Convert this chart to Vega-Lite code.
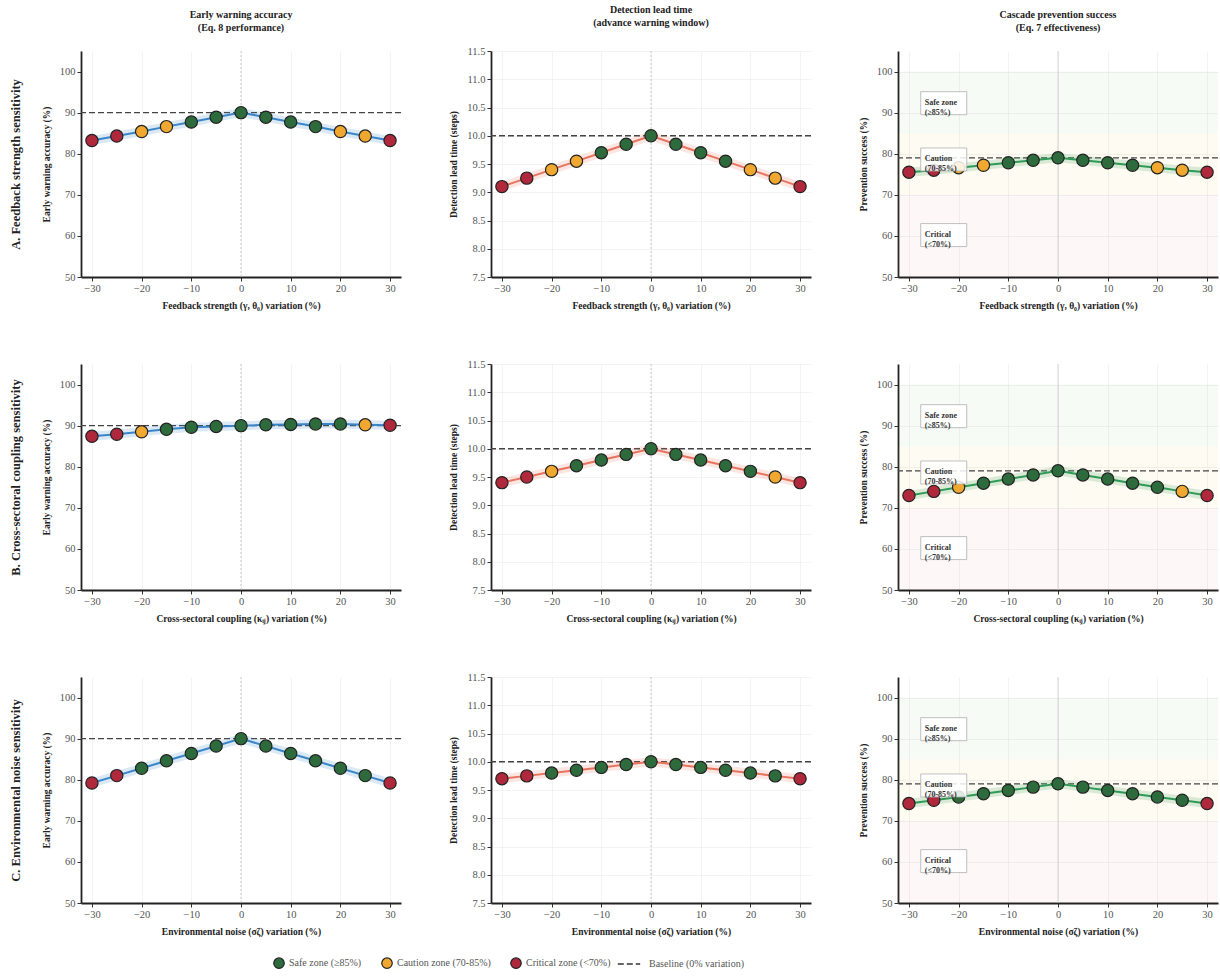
{
"$schema": "https://vega.github.io/schema/vega-lite/v6.json",
"background": "white",
"padding": {"left": 9, "top": 5, "right": 2, "bottom": 5},
"config": {
 "view": {"stroke": null},
 "axis": {"domainColor": "#222", "domainWidth": 1.8, "tickColor": "#333", "tickSize": 4, "tickWidth": 1, "tickCount": 12, "labelFont": "Liberation Serif", "labelFontSize": 10.5, "labelColor": "#555", "labelPadding": 2, "labelOverlap": false, "titleFont": "Liberation Serif", "titleFontSize": 9.5, "titleFontWeight": "bold", "titleColor": "#222", "gridColor": "#eeeeee", "gridWidth": 0.7, "grid": true},
 "axisX": {"titlePadding": 7},
 "axisY": {"titlePadding": 8},
 "title": {"font": "Liberation Serif", "fontSize": 10, "fontWeight": "bold", "color": "#222", "lineHeight": 13},
 "legend": {"labelFont": "Liberation Serif", "labelFontSize": 10, "labelColor": "#555"}
},
"datasets": {
 "A1": [
  {"x": -30, "v": 83.2, "zone": "Critical zone (<70%)"}, {"x": -25, "v": 84.3, "zone": "Critical zone (<70%)"}, {"x": -20, "v": 85.4, "zone": "Caution zone (70-85%)"}, {"x": -15, "v": 86.6, "zone": "Caution zone (70-85%)"}, {"x": -10, "v": 87.7, "zone": "Safe zone (≥85%)"}, {"x": -5, "v": 88.9, "zone": "Safe zone (≥85%)"}, {"x": 0, "v": 90.0, "zone": "Safe zone (≥85%)"}, {"x": 5, "v": 88.9, "zone": "Safe zone (≥85%)"}, {"x": 10, "v": 87.7, "zone": "Safe zone (≥85%)"}, {"x": 15, "v": 86.6, "zone": "Safe zone (≥85%)"}, {"x": 20, "v": 85.4, "zone": "Caution zone (70-85%)"}, {"x": 25, "v": 84.3, "zone": "Caution zone (70-85%)"}, {"x": 30, "v": 83.2, "zone": "Critical zone (<70%)"}
 ],
 "A2": [
  {"x": -30, "v": 9.1, "zone": "Critical zone (<70%)"}, {"x": -25, "v": 9.25, "zone": "Critical zone (<70%)"}, {"x": -20, "v": 9.4, "zone": "Caution zone (70-85%)"}, {"x": -15, "v": 9.55, "zone": "Caution zone (70-85%)"}, {"x": -10, "v": 9.7, "zone": "Safe zone (≥85%)"}, {"x": -5, "v": 9.85, "zone": "Safe zone (≥85%)"}, {"x": 0, "v": 10.0, "zone": "Safe zone (≥85%)"}, {"x": 5, "v": 9.85, "zone": "Safe zone (≥85%)"}, {"x": 10, "v": 9.7, "zone": "Safe zone (≥85%)"}, {"x": 15, "v": 9.55, "zone": "Safe zone (≥85%)"}, {"x": 20, "v": 9.4, "zone": "Caution zone (70-85%)"}, {"x": 25, "v": 9.25, "zone": "Caution zone (70-85%)"}, {"x": 30, "v": 9.1, "zone": "Critical zone (<70%)"}
 ],
 "A3": [
  {"x": -30, "v": 75.5, "zone": "Critical zone (<70%)"}, {"x": -25, "v": 76.0, "zone": "Critical zone (<70%)"}, {"x": -20, "v": 76.6, "zone": "Caution zone (70-85%)"}, {"x": -15, "v": 77.2, "zone": "Caution zone (70-85%)"}, {"x": -10, "v": 77.8, "zone": "Safe zone (≥85%)"}, {"x": -5, "v": 78.4, "zone": "Safe zone (≥85%)"}, {"x": 0, "v": 79.0, "zone": "Safe zone (≥85%)"}, {"x": 5, "v": 78.4, "zone": "Safe zone (≥85%)"}, {"x": 10, "v": 77.8, "zone": "Safe zone (≥85%)"}, {"x": 15, "v": 77.2, "zone": "Safe zone (≥85%)"}, {"x": 20, "v": 76.6, "zone": "Caution zone (70-85%)"}, {"x": 25, "v": 76.0, "zone": "Caution zone (70-85%)"}, {"x": 30, "v": 75.5, "zone": "Critical zone (<70%)"}
 ],
 "B1": [
  {"x": -30, "v": 87.4, "zone": "Critical zone (<70%)"}, {"x": -25, "v": 87.9, "zone": "Critical zone (<70%)"}, {"x": -20, "v": 88.5, "zone": "Caution zone (70-85%)"}, {"x": -15, "v": 89.1, "zone": "Safe zone (≥85%)"}, {"x": -10, "v": 89.6, "zone": "Safe zone (≥85%)"}, {"x": -5, "v": 89.8, "zone": "Safe zone (≥85%)"}, {"x": 0, "v": 90.0, "zone": "Safe zone (≥85%)"}, {"x": 5, "v": 90.2, "zone": "Safe zone (≥85%)"}, {"x": 10, "v": 90.3, "zone": "Safe zone (≥85%)"}, {"x": 15, "v": 90.4, "zone": "Safe zone (≥85%)"}, {"x": 20, "v": 90.4, "zone": "Safe zone (≥85%)"}, {"x": 25, "v": 90.2, "zone": "Caution zone (70-85%)"}, {"x": 30, "v": 90.1, "zone": "Critical zone (<70%)"}
 ],
 "B2": [
  {"x": -30, "v": 9.4, "zone": "Critical zone (<70%)"}, {"x": -25, "v": 9.5, "zone": "Critical zone (<70%)"}, {"x": -20, "v": 9.6, "zone": "Caution zone (70-85%)"}, {"x": -15, "v": 9.7, "zone": "Safe zone (≥85%)"}, {"x": -10, "v": 9.8, "zone": "Safe zone (≥85%)"}, {"x": -5, "v": 9.9, "zone": "Safe zone (≥85%)"}, {"x": 0, "v": 10.0, "zone": "Safe zone (≥85%)"}, {"x": 5, "v": 9.9, "zone": "Safe zone (≥85%)"}, {"x": 10, "v": 9.8, "zone": "Safe zone (≥85%)"}, {"x": 15, "v": 9.7, "zone": "Safe zone (≥85%)"}, {"x": 20, "v": 9.6, "zone": "Safe zone (≥85%)"}, {"x": 25, "v": 9.5, "zone": "Caution zone (70-85%)"}, {"x": 30, "v": 9.4, "zone": "Critical zone (<70%)"}
 ],
 "B3": [
  {"x": -30, "v": 73.0, "zone": "Critical zone (<70%)"}, {"x": -25, "v": 74.0, "zone": "Critical zone (<70%)"}, {"x": -20, "v": 75.0, "zone": "Caution zone (70-85%)"}, {"x": -15, "v": 76.0, "zone": "Safe zone (≥85%)"}, {"x": -10, "v": 77.0, "zone": "Safe zone (≥85%)"}, {"x": -5, "v": 78.0, "zone": "Safe zone (≥85%)"}, {"x": 0, "v": 79.0, "zone": "Safe zone (≥85%)"}, {"x": 5, "v": 78.0, "zone": "Safe zone (≥85%)"}, {"x": 10, "v": 77.0, "zone": "Safe zone (≥85%)"}, {"x": 15, "v": 76.0, "zone": "Safe zone (≥85%)"}, {"x": 20, "v": 75.0, "zone": "Safe zone (≥85%)"}, {"x": 25, "v": 74.0, "zone": "Caution zone (70-85%)"}, {"x": 30, "v": 73.0, "zone": "Critical zone (<70%)"}
 ],
 "C1": [
  {"x": -30, "v": 79.2, "zone": "Critical zone (<70%)"}, {"x": -25, "v": 81.0, "zone": "Critical zone (<70%)"}, {"x": -20, "v": 82.8, "zone": "Safe zone (≥85%)"}, {"x": -15, "v": 84.6, "zone": "Safe zone (≥85%)"}, {"x": -10, "v": 86.4, "zone": "Safe zone (≥85%)"}, {"x": -5, "v": 88.2, "zone": "Safe zone (≥85%)"}, {"x": 0, "v": 90.0, "zone": "Safe zone (≥85%)"}, {"x": 5, "v": 88.2, "zone": "Safe zone (≥85%)"}, {"x": 10, "v": 86.4, "zone": "Safe zone (≥85%)"}, {"x": 15, "v": 84.6, "zone": "Safe zone (≥85%)"}, {"x": 20, "v": 82.8, "zone": "Safe zone (≥85%)"}, {"x": 25, "v": 81.0, "zone": "Safe zone (≥85%)"}, {"x": 30, "v": 79.2, "zone": "Critical zone (<70%)"}
 ],
 "C2": [
  {"x": -30, "v": 9.7, "zone": "Critical zone (<70%)"}, {"x": -25, "v": 9.75, "zone": "Critical zone (<70%)"}, {"x": -20, "v": 9.8, "zone": "Safe zone (≥85%)"}, {"x": -15, "v": 9.85, "zone": "Safe zone (≥85%)"}, {"x": -10, "v": 9.9, "zone": "Safe zone (≥85%)"}, {"x": -5, "v": 9.95, "zone": "Safe zone (≥85%)"}, {"x": 0, "v": 10.0, "zone": "Safe zone (≥85%)"}, {"x": 5, "v": 9.95, "zone": "Safe zone (≥85%)"}, {"x": 10, "v": 9.9, "zone": "Safe zone (≥85%)"}, {"x": 15, "v": 9.85, "zone": "Safe zone (≥85%)"}, {"x": 20, "v": 9.8, "zone": "Safe zone (≥85%)"}, {"x": 25, "v": 9.75, "zone": "Safe zone (≥85%)"}, {"x": 30, "v": 9.7, "zone": "Critical zone (<70%)"}
 ],
 "C3": [
  {"x": -30, "v": 74.2, "zone": "Critical zone (<70%)"}, {"x": -25, "v": 75.0, "zone": "Critical zone (<70%)"}, {"x": -20, "v": 75.8, "zone": "Safe zone (≥85%)"}, {"x": -15, "v": 76.6, "zone": "Safe zone (≥85%)"}, {"x": -10, "v": 77.4, "zone": "Safe zone (≥85%)"}, {"x": -5, "v": 78.2, "zone": "Safe zone (≥85%)"}, {"x": 0, "v": 79.0, "zone": "Safe zone (≥85%)"}, {"x": 5, "v": 78.2, "zone": "Safe zone (≥85%)"}, {"x": 10, "v": 77.4, "zone": "Safe zone (≥85%)"}, {"x": 15, "v": 76.6, "zone": "Safe zone (≥85%)"}, {"x": 20, "v": 75.8, "zone": "Safe zone (≥85%)"}, {"x": 25, "v": 75.0, "zone": "Safe zone (≥85%)"}, {"x": 30, "v": 74.2, "zone": "Critical zone (<70%)"}
 ]
},
"spacing": 49,
"vconcat": [
 {
  "spacing": 39,
  "hconcat": [
   {"width": 320, "height": 226, "title": {"text": ["Early warning accuracy", "(Eq. 8 performance)"], "offset": 18},
    "resolve": {"axis": {"y": "independent"}},
    "layer": [
     {"data": {"values": [{}]}, "mark": {"type": "rule", "color": "#bbbbbb", "strokeDash": [2, 2], "strokeWidth": 0.8}, "encoding": {"x": {"datum": 0}}},
     {"data": {"values": [{}]}, "mark": {"type": "rule", "color": "#444444", "strokeWidth": 1.4}, "encoding": {"y": {"datum": 90, "axis": null},
       "strokeDash": {"datum": "Baseline (0% variation)", "type": "nominal", "scale": {"domain": ["Baseline (0% variation)"], "range": [[6, 3]]},
        "legend": {"orient": "none", "legendX": 536, "legendY": 901, "title": null, "symbolStrokeWidth": 1.5, "symbolSize": 500, "symbolStrokeColor": "#333", "labelOffset": 8}}}},
     {"data": {"name": "A1"}, "mark": {"type": "line", "color": "#3a86c8", "strokeWidth": 9, "opacity": 0.18}, "encoding": {"x": {"field": "x", "type": "quantitative"}, "y": {"field": "v", "type": "quantitative", "axis": {"title": "A. Feedback strength sensitivity", "orient": "left", "labels": false, "ticks": false, "domain": false, "grid": false, "titleFontSize": 12.5, "titlePadding": 59}}}},
     {"data": {"name": "A1"}, "mark": {"type": "line", "color": "#3a86c8", "strokeWidth": 2}, "encoding": {
       "x": {"field": "x", "type": "quantitative", "scale": {"domain": [-32.2, 32.2], "nice": false}, "axis": {"values": [-30, -20, -10, 0, 10, 20, 30], "title": "Feedback strength (γ, θ₀) variation (%)"}},
       "y": {"field": "v", "type": "quantitative", "scale": {"domain": [50, 105], "nice": false, "zero": false}, "axis": {"orient": "left", "values": [50, 60, 70, 80, 90, 100], "title": "Early warning accuracy (%)"}}}},
     {"data": {"name": "A1"}, "mark": {"type": "point", "filled": true, "size": 150, "stroke": "#222", "strokeWidth": 1.2, "opacity": 1}, "encoding": {"x": {"field": "x", "type": "quantitative"}, "y": {"field": "v", "type": "quantitative", "axis": null},
       "fill": {"field": "zone", "type": "nominal", "scale": {"domain": ["Safe zone (≥85%)", "Caution zone (70-85%)", "Critical zone (<70%)"], "range": ["#2e6b3c", "#f0a830", "#b0283c"]},
        "legend": {"orient": "none", "legendX": 192, "legendY": 906, "direction": "horizontal", "title": null, "columnPadding": 17, "symbolSize": 110, "symbolStrokeColor": "#222", "symbolStrokeWidth": 1.2}}}}
    ]},
   {"width": 320, "height": 226, "title": {"text": ["Detection lead time", "(advance warning window)"], "offset": 18},
    "layer": [
     {"data": {"values": [{}]}, "mark": {"type": "rule", "color": "#bbbbbb", "strokeDash": [2, 2], "strokeWidth": 0.8}, "encoding": {"x": {"datum": 0}}},
     {"data": {"values": [{}]}, "mark": {"type": "rule", "color": "#444444", "strokeDash": [6, 3], "strokeWidth": 1.4}, "encoding": {"y": {"datum": 10}}},
     {"data": {"name": "A2"}, "mark": {"type": "line", "color": "#e8735e", "strokeWidth": 9, "opacity": 0.18}, "encoding": {"x": {"field": "x", "type": "quantitative"}, "y": {"field": "v", "type": "quantitative"}}},
     {"data": {"name": "A2"}, "mark": {"type": "line", "color": "#e8735e", "strokeWidth": 2}, "encoding": {
       "x": {"field": "x", "type": "quantitative", "scale": {"domain": [-32.2, 32.2], "nice": false}, "axis": {"values": [-30, -20, -10, 0, 10, 20, 30], "title": "Feedback strength (γ, θ₀) variation (%)"}},
       "y": {"field": "v", "type": "quantitative", "scale": {"domain": [7.5, 11.5], "nice": false, "zero": false}, "axis": {"values": [7.5, 8, 8.5, 9, 9.5, 10, 10.5, 11, 11.5], "format": ".1f", "tickCount": 12, "title": "Detection lead time (steps)"}}}},
     {"data": {"name": "A2"}, "mark": {"type": "point", "filled": true, "size": 150, "stroke": "#222", "strokeWidth": 1.2, "opacity": 1}, "encoding": {"x": {"field": "x", "type": "quantitative"}, "y": {"field": "v", "type": "quantitative"},
       "fill": {"field": "zone", "type": "nominal"}}}
    ]},
   {"width": 320, "height": 226, "title": {"text": ["Cascade prevention success", "(Eq. 7 effectiveness)"], "offset": 18},
    "layer": [
     {"data": {"values": [{}]}, "mark": {"type": "rect", "color": "#4caf50", "opacity": 0.05}, "encoding": {"y": {"datum": 85}, "y2": {"datum": 100}}},
     {"data": {"values": [{}]}, "mark": {"type": "rect", "color": "#f5c542", "opacity": 0.07}, "encoding": {"y": {"datum": 70}, "y2": {"datum": 85}}},
     {"data": {"values": [{}]}, "mark": {"type": "rect", "color": "#e57373", "opacity": 0.06}, "encoding": {"y": {"datum": 50}, "y2": {"datum": 70}}},
     {"data": {"values": [{}]}, "mark": {"type": "rule", "color": "#cccccc", "strokeWidth": 0.8}, "encoding": {"x": {"datum": 0}}},
     {"data": {"values": [{}]}, "mark": {"type": "rule", "color": "#444444", "strokeDash": [6, 3], "strokeWidth": 1.4}, "encoding": {"y": {"datum": 79}}},
     {"data": {"name": "A3"}, "mark": {"type": "line", "color": "#2e9a55", "strokeWidth": 9, "opacity": 0.18}, "encoding": {"x": {"field": "x", "type": "quantitative"}, "y": {"field": "v", "type": "quantitative"}}},
     {"data": {"name": "A3"}, "mark": {"type": "line", "color": "#2e9a55", "strokeWidth": 2}, "encoding": {
       "x": {"field": "x", "type": "quantitative", "scale": {"domain": [-32.2, 32.2], "nice": false}, "axis": {"values": [-30, -20, -10, 0, 10, 20, 30], "title": "Feedback strength (γ, θ₀) variation (%)"}},
       "y": {"field": "v", "type": "quantitative", "scale": {"domain": [50, 105], "nice": false, "zero": false}, "axis": {"values": [50, 60, 70, 80, 90, 100], "title": "Prevention success (%)"}}}},
     {"data": {"name": "A3"}, "mark": {"type": "point", "filled": true, "size": 150, "stroke": "#222", "strokeWidth": 1.2, "opacity": 1}, "encoding": {"x": {"field": "x", "type": "quantitative"}, "y": {"field": "v", "type": "quantitative"},
       "fill": {"field": "zone", "type": "nominal"}}},
     {"data": {"values": [{}]}, "encoding": {"x": {"datum": -23}, "y": {"datum": 92.3}}, "layer": [
       {"mark": {"type": "point", "shape": "M-1,-0.5H1V0.5H-1Z", "size": 2116, "filled": true, "fill": "white", "fillOpacity": 0.85, "stroke": "#b0b0b0", "strokeWidth": 0.8}},
       {"mark": {"type": "text", "text": "Safe zone\n(≥85%)", "lineBreak": "\n", "align": "left", "dx": -19, "baseline": "middle", "font": "Liberation Serif", "fontSize": 8, "fontWeight": "bold", "color": "#333"}}]},
     {"data": {"values": [{}]}, "encoding": {"x": {"datum": -23}, "y": {"datum": 78.6}}, "layer": [
       {"mark": {"type": "point", "shape": "M-1,-0.5H1V0.5H-1Z", "size": 2116, "filled": true, "fill": "white", "fillOpacity": 0.85, "stroke": "#b0b0b0", "strokeWidth": 0.8}},
       {"mark": {"type": "text", "text": "Caution\n(70-85%)", "lineBreak": "\n", "align": "left", "dx": -19, "baseline": "middle", "font": "Liberation Serif", "fontSize": 8, "fontWeight": "bold", "color": "#333"}}]},
     {"data": {"values": [{}]}, "encoding": {"x": {"datum": -23}, "y": {"datum": 60.2}}, "layer": [
       {"mark": {"type": "point", "shape": "M-1,-0.5H1V0.5H-1Z", "size": 2116, "filled": true, "fill": "white", "fillOpacity": 0.85, "stroke": "#b0b0b0", "strokeWidth": 0.8}},
       {"mark": {"type": "text", "text": "Critical\n(<70%)", "lineBreak": "\n", "align": "left", "dx": -19, "baseline": "middle", "font": "Liberation Serif", "fontSize": 8, "fontWeight": "bold", "color": "#333"}}]}
    ]}
  ]
 },
 {
  "spacing": 39,
  "hconcat": [
   {"width": 320, "height": 226,
    "resolve": {"axis": {"y": "independent"}},
    "layer": [
     {"data": {"values": [{}]}, "mark": {"type": "rule", "color": "#bbbbbb", "strokeDash": [2, 2], "strokeWidth": 0.8}, "encoding": {"x": {"datum": 0}}},
     {"data": {"values": [{}]}, "mark": {"type": "rule", "color": "#444444", "strokeDash": [6, 3], "strokeWidth": 1.4}, "encoding": {"y": {"datum": 90, "axis": null}}},
     {"data": {"name": "B1"}, "mark": {"type": "line", "color": "#3a86c8", "strokeWidth": 9, "opacity": 0.18}, "encoding": {"x": {"field": "x", "type": "quantitative"}, "y": {"field": "v", "type": "quantitative", "axis": {"title": "B. Cross-sectoral coupling sensitivity", "orient": "left", "labels": false, "ticks": false, "domain": false, "grid": false, "titleFontSize": 12.5, "titlePadding": 59}}}},
     {"data": {"name": "B1"}, "mark": {"type": "line", "color": "#3a86c8", "strokeWidth": 2}, "encoding": {
       "x": {"field": "x", "type": "quantitative", "scale": {"domain": [-32.2, 32.2], "nice": false}, "axis": {"values": [-30, -20, -10, 0, 10, 20, 30], "title": "Cross-sectoral coupling (κᵢⱼ) variation (%)"}},
       "y": {"field": "v", "type": "quantitative", "scale": {"domain": [50, 105], "nice": false, "zero": false}, "axis": {"orient": "left", "values": [50, 60, 70, 80, 90, 100], "title": "Early warning accuracy (%)"}}}},
     {"data": {"name": "B1"}, "mark": {"type": "point", "filled": true, "size": 150, "stroke": "#222", "strokeWidth": 1.2, "opacity": 1}, "encoding": {"x": {"field": "x", "type": "quantitative"}, "y": {"field": "v", "type": "quantitative", "axis": null},
       "fill": {"field": "zone", "type": "nominal"}}}
    ]},
   {"width": 320, "height": 226,
    "layer": [
     {"data": {"values": [{}]}, "mark": {"type": "rule", "color": "#bbbbbb", "strokeDash": [2, 2], "strokeWidth": 0.8}, "encoding": {"x": {"datum": 0}}},
     {"data": {"values": [{}]}, "mark": {"type": "rule", "color": "#444444", "strokeDash": [6, 3], "strokeWidth": 1.4}, "encoding": {"y": {"datum": 10}}},
     {"data": {"name": "B2"}, "mark": {"type": "line", "color": "#e8735e", "strokeWidth": 9, "opacity": 0.18}, "encoding": {"x": {"field": "x", "type": "quantitative"}, "y": {"field": "v", "type": "quantitative"}}},
     {"data": {"name": "B2"}, "mark": {"type": "line", "color": "#e8735e", "strokeWidth": 2}, "encoding": {
       "x": {"field": "x", "type": "quantitative", "scale": {"domain": [-32.2, 32.2], "nice": false}, "axis": {"values": [-30, -20, -10, 0, 10, 20, 30], "title": "Cross-sectoral coupling (κᵢⱼ) variation (%)"}},
       "y": {"field": "v", "type": "quantitative", "scale": {"domain": [7.5, 11.5], "nice": false, "zero": false}, "axis": {"values": [7.5, 8, 8.5, 9, 9.5, 10, 10.5, 11, 11.5], "format": ".1f", "tickCount": 12, "title": "Detection lead time (steps)"}}}},
     {"data": {"name": "B2"}, "mark": {"type": "point", "filled": true, "size": 150, "stroke": "#222", "strokeWidth": 1.2, "opacity": 1}, "encoding": {"x": {"field": "x", "type": "quantitative"}, "y": {"field": "v", "type": "quantitative"},
       "fill": {"field": "zone", "type": "nominal"}}}
    ]},
   {"width": 320, "height": 226,
    "layer": [
     {"data": {"values": [{}]}, "mark": {"type": "rect", "color": "#4caf50", "opacity": 0.05}, "encoding": {"y": {"datum": 85}, "y2": {"datum": 100}}},
     {"data": {"values": [{}]}, "mark": {"type": "rect", "color": "#f5c542", "opacity": 0.07}, "encoding": {"y": {"datum": 70}, "y2": {"datum": 85}}},
     {"data": {"values": [{}]}, "mark": {"type": "rect", "color": "#e57373", "opacity": 0.06}, "encoding": {"y": {"datum": 50}, "y2": {"datum": 70}}},
     {"data": {"values": [{}]}, "mark": {"type": "rule", "color": "#cccccc", "strokeWidth": 0.8}, "encoding": {"x": {"datum": 0}}},
     {"data": {"values": [{}]}, "mark": {"type": "rule", "color": "#444444", "strokeDash": [6, 3], "strokeWidth": 1.4}, "encoding": {"y": {"datum": 79}}},
     {"data": {"name": "B3"}, "mark": {"type": "line", "color": "#2e9a55", "strokeWidth": 9, "opacity": 0.18}, "encoding": {"x": {"field": "x", "type": "quantitative"}, "y": {"field": "v", "type": "quantitative"}}},
     {"data": {"name": "B3"}, "mark": {"type": "line", "color": "#2e9a55", "strokeWidth": 2}, "encoding": {
       "x": {"field": "x", "type": "quantitative", "scale": {"domain": [-32.2, 32.2], "nice": false}, "axis": {"values": [-30, -20, -10, 0, 10, 20, 30], "title": "Cross-sectoral coupling (κᵢⱼ) variation (%)"}},
       "y": {"field": "v", "type": "quantitative", "scale": {"domain": [50, 105], "nice": false, "zero": false}, "axis": {"values": [50, 60, 70, 80, 90, 100], "title": "Prevention success (%)"}}}},
     {"data": {"name": "B3"}, "mark": {"type": "point", "filled": true, "size": 150, "stroke": "#222", "strokeWidth": 1.2, "opacity": 1}, "encoding": {"x": {"field": "x", "type": "quantitative"}, "y": {"field": "v", "type": "quantitative"},
       "fill": {"field": "zone", "type": "nominal"}}},
     {"data": {"values": [{}]}, "encoding": {"x": {"datum": -23}, "y": {"datum": 92.3}}, "layer": [
       {"mark": {"type": "point", "shape": "M-1,-0.5H1V0.5H-1Z", "size": 2116, "filled": true, "fill": "white", "fillOpacity": 0.85, "stroke": "#b0b0b0", "strokeWidth": 0.8}},
       {"mark": {"type": "text", "text": "Safe zone\n(≥85%)", "lineBreak": "\n", "align": "left", "dx": -19, "baseline": "middle", "font": "Liberation Serif", "fontSize": 8, "fontWeight": "bold", "color": "#333"}}]},
     {"data": {"values": [{}]}, "encoding": {"x": {"datum": -23}, "y": {"datum": 78.6}}, "layer": [
       {"mark": {"type": "point", "shape": "M-1,-0.5H1V0.5H-1Z", "size": 2116, "filled": true, "fill": "white", "fillOpacity": 0.85, "stroke": "#b0b0b0", "strokeWidth": 0.8}},
       {"mark": {"type": "text", "text": "Caution\n(70-85%)", "lineBreak": "\n", "align": "left", "dx": -19, "baseline": "middle", "font": "Liberation Serif", "fontSize": 8, "fontWeight": "bold", "color": "#333"}}]},
     {"data": {"values": [{}]}, "encoding": {"x": {"datum": -23}, "y": {"datum": 60.2}}, "layer": [
       {"mark": {"type": "point", "shape": "M-1,-0.5H1V0.5H-1Z", "size": 2116, "filled": true, "fill": "white", "fillOpacity": 0.85, "stroke": "#b0b0b0", "strokeWidth": 0.8}},
       {"mark": {"type": "text", "text": "Critical\n(<70%)", "lineBreak": "\n", "align": "left", "dx": -19, "baseline": "middle", "font": "Liberation Serif", "fontSize": 8, "fontWeight": "bold", "color": "#333"}}]}
    ]}
  ]
 },
 {
  "spacing": 39,
  "hconcat": [
   {"width": 320, "height": 226,
    "resolve": {"axis": {"y": "independent"}},
    "layer": [
     {"data": {"values": [{}]}, "mark": {"type": "rule", "color": "#bbbbbb", "strokeDash": [2, 2], "strokeWidth": 0.8}, "encoding": {"x": {"datum": 0}}},
     {"data": {"values": [{}]}, "mark": {"type": "rule", "color": "#444444", "strokeDash": [6, 3], "strokeWidth": 1.4}, "encoding": {"y": {"datum": 90, "axis": null}}},
     {"data": {"name": "C1"}, "mark": {"type": "line", "color": "#3a86c8", "strokeWidth": 9, "opacity": 0.18}, "encoding": {"x": {"field": "x", "type": "quantitative"}, "y": {"field": "v", "type": "quantitative", "axis": {"title": "C. Environmental noise sensitivity", "orient": "left", "labels": false, "ticks": false, "domain": false, "grid": false, "titleFontSize": 12.5, "titlePadding": 59}}}},
     {"data": {"name": "C1"}, "mark": {"type": "line", "color": "#3a86c8", "strokeWidth": 2}, "encoding": {
       "x": {"field": "x", "type": "quantitative", "scale": {"domain": [-32.2, 32.2], "nice": false}, "axis": {"values": [-30, -20, -10, 0, 10, 20, 30], "title": "Environmental noise (σζ) variation (%)"}},
       "y": {"field": "v", "type": "quantitative", "scale": {"domain": [50, 105], "nice": false, "zero": false}, "axis": {"orient": "left", "values": [50, 60, 70, 80, 90, 100], "title": "Early warning accuracy (%)"}}}},
     {"data": {"name": "C1"}, "mark": {"type": "point", "filled": true, "size": 150, "stroke": "#222", "strokeWidth": 1.2, "opacity": 1}, "encoding": {"x": {"field": "x", "type": "quantitative"}, "y": {"field": "v", "type": "quantitative", "axis": null},
       "fill": {"field": "zone", "type": "nominal"}}}
    ]},
   {"width": 320, "height": 226,
    "layer": [
     {"data": {"values": [{}]}, "mark": {"type": "rule", "color": "#bbbbbb", "strokeDash": [2, 2], "strokeWidth": 0.8}, "encoding": {"x": {"datum": 0}}},
     {"data": {"values": [{}]}, "mark": {"type": "rule", "color": "#444444", "strokeDash": [6, 3], "strokeWidth": 1.4}, "encoding": {"y": {"datum": 10}}},
     {"data": {"name": "C2"}, "mark": {"type": "line", "color": "#e8735e", "strokeWidth": 9, "opacity": 0.18}, "encoding": {"x": {"field": "x", "type": "quantitative"}, "y": {"field": "v", "type": "quantitative"}}},
     {"data": {"name": "C2"}, "mark": {"type": "line", "color": "#e8735e", "strokeWidth": 2}, "encoding": {
       "x": {"field": "x", "type": "quantitative", "scale": {"domain": [-32.2, 32.2], "nice": false}, "axis": {"values": [-30, -20, -10, 0, 10, 20, 30], "title": "Environmental noise (σζ) variation (%)"}},
       "y": {"field": "v", "type": "quantitative", "scale": {"domain": [7.5, 11.5], "nice": false, "zero": false}, "axis": {"values": [7.5, 8, 8.5, 9, 9.5, 10, 10.5, 11, 11.5], "format": ".1f", "tickCount": 12, "title": "Detection lead time (steps)"}}}},
     {"data": {"name": "C2"}, "mark": {"type": "point", "filled": true, "size": 150, "stroke": "#222", "strokeWidth": 1.2, "opacity": 1}, "encoding": {"x": {"field": "x", "type": "quantitative"}, "y": {"field": "v", "type": "quantitative"},
       "fill": {"field": "zone", "type": "nominal"}}}
    ]},
   {"width": 320, "height": 226,
    "layer": [
     {"data": {"values": [{}]}, "mark": {"type": "rect", "color": "#4caf50", "opacity": 0.05}, "encoding": {"y": {"datum": 85}, "y2": {"datum": 100}}},
     {"data": {"values": [{}]}, "mark": {"type": "rect", "color": "#f5c542", "opacity": 0.07}, "encoding": {"y": {"datum": 70}, "y2": {"datum": 85}}},
     {"data": {"values": [{}]}, "mark": {"type": "rect", "color": "#e57373", "opacity": 0.06}, "encoding": {"y": {"datum": 50}, "y2": {"datum": 70}}},
     {"data": {"values": [{}]}, "mark": {"type": "rule", "color": "#cccccc", "strokeWidth": 0.8}, "encoding": {"x": {"datum": 0}}},
     {"data": {"values": [{}]}, "mark": {"type": "rule", "color": "#444444", "strokeDash": [6, 3], "strokeWidth": 1.4}, "encoding": {"y": {"datum": 79}}},
     {"data": {"name": "C3"}, "mark": {"type": "line", "color": "#2e9a55", "strokeWidth": 9, "opacity": 0.18}, "encoding": {"x": {"field": "x", "type": "quantitative"}, "y": {"field": "v", "type": "quantitative"}}},
     {"data": {"name": "C3"}, "mark": {"type": "line", "color": "#2e9a55", "strokeWidth": 2}, "encoding": {
       "x": {"field": "x", "type": "quantitative", "scale": {"domain": [-32.2, 32.2], "nice": false}, "axis": {"values": [-30, -20, -10, 0, 10, 20, 30], "title": "Environmental noise (σζ) variation (%)"}},
       "y": {"field": "v", "type": "quantitative", "scale": {"domain": [50, 105], "nice": false, "zero": false}, "axis": {"values": [50, 60, 70, 80, 90, 100], "title": "Prevention success (%)"}}}},
     {"data": {"name": "C3"}, "mark": {"type": "point", "filled": true, "size": 150, "stroke": "#222", "strokeWidth": 1.2, "opacity": 1}, "encoding": {"x": {"field": "x", "type": "quantitative"}, "y": {"field": "v", "type": "quantitative"},
       "fill": {"field": "zone", "type": "nominal"}}},
     {"data": {"values": [{}]}, "encoding": {"x": {"datum": -23}, "y": {"datum": 92.3}}, "layer": [
       {"mark": {"type": "point", "shape": "M-1,-0.5H1V0.5H-1Z", "size": 2116, "filled": true, "fill": "white", "fillOpacity": 0.85, "stroke": "#b0b0b0", "strokeWidth": 0.8}},
       {"mark": {"type": "text", "text": "Safe zone\n(≥85%)", "lineBreak": "\n", "align": "left", "dx": -19, "baseline": "middle", "font": "Liberation Serif", "fontSize": 8, "fontWeight": "bold", "color": "#333"}}]},
     {"data": {"values": [{}]}, "encoding": {"x": {"datum": -23}, "y": {"datum": 78.6}}, "layer": [
       {"mark": {"type": "point", "shape": "M-1,-0.5H1V0.5H-1Z", "size": 2116, "filled": true, "fill": "white", "fillOpacity": 0.85, "stroke": "#b0b0b0", "strokeWidth": 0.8}},
       {"mark": {"type": "text", "text": "Caution\n(70-85%)", "lineBreak": "\n", "align": "left", "dx": -19, "baseline": "middle", "font": "Liberation Serif", "fontSize": 8, "fontWeight": "bold", "color": "#333"}}]},
     {"data": {"values": [{}]}, "encoding": {"x": {"datum": -23}, "y": {"datum": 60.2}}, "layer": [
       {"mark": {"type": "point", "shape": "M-1,-0.5H1V0.5H-1Z", "size": 2116, "filled": true, "fill": "white", "fillOpacity": 0.85, "stroke": "#b0b0b0", "strokeWidth": 0.8}},
       {"mark": {"type": "text", "text": "Critical\n(<70%)", "lineBreak": "\n", "align": "left", "dx": -19, "baseline": "middle", "font": "Liberation Serif", "fontSize": 8, "fontWeight": "bold", "color": "#333"}}]}
    ]}
  ]
 }
]
}
